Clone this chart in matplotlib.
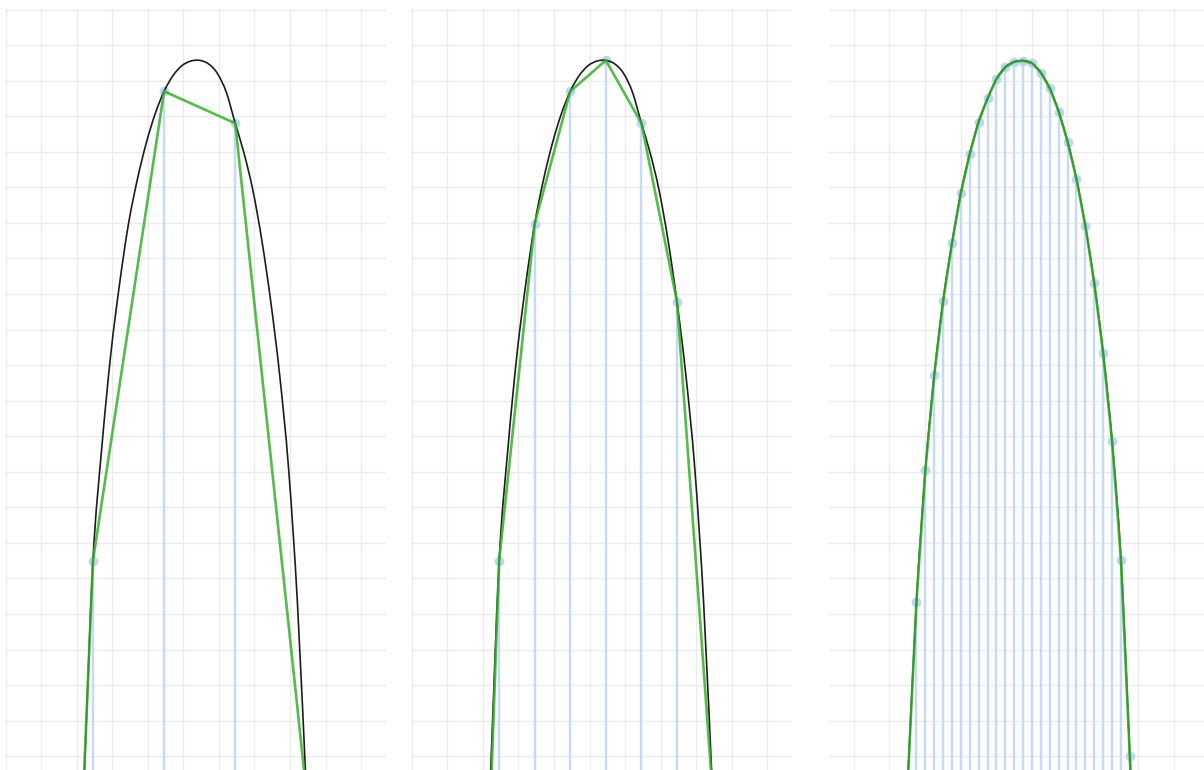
import numpy as np
import matplotlib
matplotlib.use("Agg")
import matplotlib.pyplot as plt
from matplotlib.path import Path
from matplotlib.patches import PathPatch

# sample positions, in grid units from each panel's left edge
curve_x = [2.21, 2.46, 2.71, 2.96, 3.21, 3.46, 3.71, 3.96, 4.21, 4.46, 4.71, 4.96, 5.21,
           5.46, 5.71, 5.96, 6.21, 6.46, 6.71, 6.96, 7.21, 7.46, 7.71, 7.96, 8.21, 8.46]
# curve values (grid units below the top line)
curve_y = [-21.7, -15.5, -12.3, -9.7, -7.7, -6.02, -4.77, -3.75, -2.93, -2.30, -1.86, -1.58, -1.45,
           -1.43, -1.53, -1.80, -2.33, -3.2, -4.05, -5.1, -6.5, -8.22, -10.28, -12.9, -16.7, -22.0]

# panel 1: step 2
coarse_x = [0.46, 2.46, 4.46, 6.46, 8.46]
coarse_y = [-63.5, -15.5, -2.30, -3.2, -22.0]

# panel 2: step 1
mid_x = [1.46, 2.46, 3.46, 4.46, 5.46, 6.46, 7.46, 8.46]
mid_y = [-43.5, -15.5, -6.02, -2.30, -1.43, -3.2, -8.22, -22.0]

# panel 3: step 0.25
fine_x = curve_x + [8.71]
fine_y = [-21.8, -16.65, -12.95, -10.28, -8.19, -6.56, -5.15, -4.05, -3.15, -2.50, -1.95, -1.62, -1.47,
          -1.44, -1.51, -1.78, -2.22, -2.87, -3.72, -4.77, -6.09, -7.70, -9.67, -12.13, -15.48, -21.0, -27.0]

W, H = 1204, 770
UNIT = 35.56      # px per grid cell
TOP = 9.0

# left px, right px, px of x=0, grid offset
panels = [(5, 386, 5.5, 0.0), (411, 792, 411.7, 0.0), (829, 1209, 829, 0.7)]
data = [
    (curve_x, curve_y, coarse_x, coarse_y),
    (curve_x, curve_y, mid_x, mid_y),
    (fine_x, fine_y, fine_x, fine_y),
]


def smooth_path(xs, ys):
    # smooth line through the points (catmull-rom as bezier)
    p = np.column_stack([xs, ys])
    p = np.vstack([p[0], p, p[-1]])
    verts = [p[1]]
    codes = [Path.MOVETO]
    for i in range(1, len(p) - 2):
        c1 = p[i] + (p[i + 1] - p[i - 1]) / 6
        c2 = p[i + 1] - (p[i + 2] - p[i]) / 6
        verts += [c1, c2, p[i + 1]]
        codes += [Path.CURVE4] * 3
    return Path(verts, codes)


fig = plt.figure(figsize=(W / 100, H / 100), dpi=100)
fig.patch.set_facecolor("white")

for (l, r, x0, off), (cx, cy, sx, sy) in zip(panels, data):
    ax = fig.add_axes([l / W, 0, (r - l) / W, (H - TOP) / H])
    ax.set_xticks(np.arange(off, 10.6, 1))
    ax.set_yticks(np.arange(0, -22, -1))
    ax.set_xlim((l - x0) / UNIT, (r - x0) / UNIT)
    ax.set_ylim(-(H - TOP - 0.5) / UNIT, 0.5 / UNIT)
    ax.grid(True, color="#ebebeb", lw=1.0)
    ax.set_axisbelow(True)
    ax.tick_params(length=0, labelbottom=False, labelleft=False)
    for s in ax.spines.values():
        s.set_visible(False)

    ax.vlines(sx, -40, sy, color="#c6daf8", lw=1.7, zorder=2)
    ax.plot(sx, sy, "o", ms=7, color="#bfd5f5", mec="none", zorder=3)
    ax.add_patch(PathPatch(smooth_path(cx, cy), fill=False, ec="#1c1c1c", lw=1.2, zorder=4))
    ax.plot(sx, sy, color="#36b02c", lw=1.9, alpha=0.85, zorder=5)

fig.savefig("out.png", dpi=100)
